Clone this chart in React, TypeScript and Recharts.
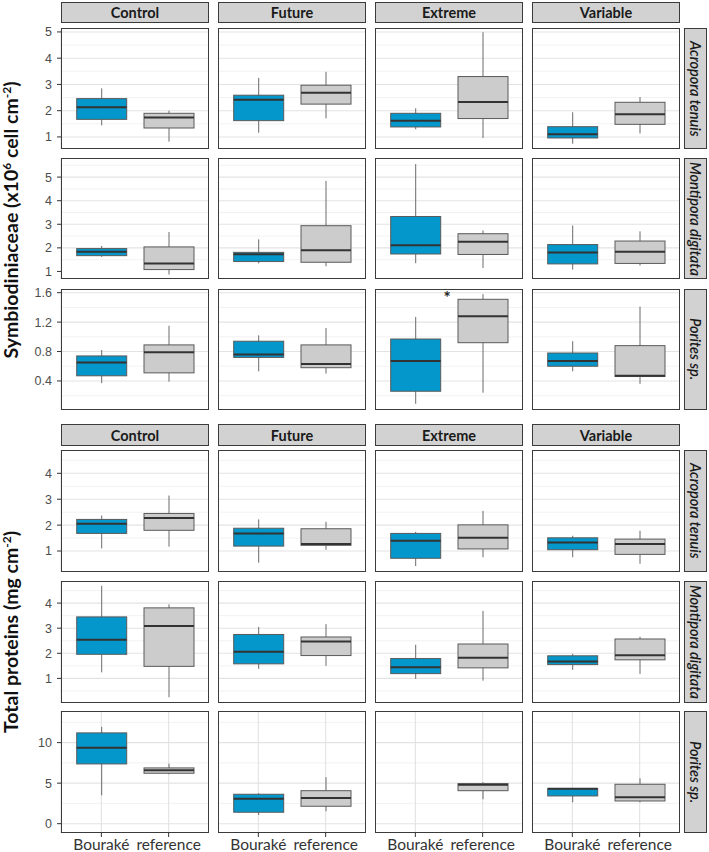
import React from 'react';
import { BarChart, Bar, XAxis, YAxis, CartesianGrid } from 'recharts';

// ---------- data ----------
const conditions = ['Control', 'Future', 'Extreme', 'Variable'];
const sites = ['Bouraké', 'reference'];
const species = ['Acropora tenuis', 'Montipora digitata', 'Porites sp.'];

// each box: [whiskerLow, q1, median, q3, whiskerHigh], one per condition
const symAcroBourake = [[1.44, 1.67, 2.13, 2.46, 2.85], [1.16, 1.62, 2.42, 2.59, 3.25], [1.29, 1.38, 1.62, 1.9, 2.09], [0.74, 0.96, 1.1, 1.39, 1.94]];
const symAcroReference = [[0.82, 1.34, 1.74, 1.9, 2.0], [1.71, 2.25, 2.68, 2.97, 3.48], [0.96, 1.7, 2.33, 3.3, 4.99], [1.13, 1.48, 1.86, 2.32, 2.52]];
const symMontiBourake = [[1.62, 1.67, 1.84, 1.97, 2.08], [1.34, 1.42, 1.73, 1.81, 2.36], [1.35, 1.74, 2.11, 3.33, 5.55], [1.08, 1.32, 1.8, 2.14, 2.95]];
const symMontiReference = [[0.87, 1.08, 1.34, 2.04, 2.67], [1.22, 1.39, 1.9, 2.94, 4.84], [1.15, 1.72, 2.26, 2.6, 2.74], [1.25, 1.34, 1.84, 2.29, 2.7]];
const symPoritesBourake = [[0.37, 0.47, 0.65, 0.74, 0.82], [0.53, 0.72, 0.76, 0.94, 1.02], [0.09, 0.26, 0.67, 0.97, 1.27], [0.53, 0.6, 0.67, 0.78, 0.94]];
const symPoritesReference = [[0.39, 0.51, 0.79, 0.89, 1.15], [0.5, 0.58, 0.63, 0.89, 1.12], [0.24, 0.92, 1.28, 1.51, 1.58], [0.36, 0.46, 0.47, 0.88, 1.41]];

const protAcroBourake = [[1.1, 1.68, 2.05, 2.22, 2.37], [0.55, 1.19, 1.68, 1.88, 2.22], [0.42, 0.72, 1.4, 1.68, 1.74], [0.76, 1.05, 1.33, 1.51, 1.59]];
const protAcroReference = [[1.17, 1.8, 2.27, 2.45, 3.14], [1.05, 1.22, 1.27, 1.86, 2.13], [0.76, 1.08, 1.51, 2.01, 2.55], [0.51, 0.87, 1.27, 1.46, 1.78]];
const protMontiBourake = [[1.24, 1.96, 2.54, 3.45, 4.69], [1.38, 1.58, 2.06, 2.75, 3.05], [0.98, 1.19, 1.44, 1.79, 2.34], [1.34, 1.55, 1.67, 1.9, 1.98]];
const protMontiReference = [[0.25, 1.48, 3.09, 3.81, 3.95], [1.5, 1.91, 2.47, 2.65, 3.16], [0.91, 1.42, 1.82, 2.37, 3.69], [1.18, 1.74, 1.92, 2.57, 2.66]];
const protPoritesBourake = [[3.5, 7.37, 9.38, 11.2, 11.94], [1.07, 1.41, 3.09, 3.63, 3.75], null, [2.64, 3.42, 4.3, 4.32, 4.37]];
const protPoritesReference = [[6.1, 6.22, 6.59, 6.88, 7.4], [1.53, 2.15, 3.17, 4.07, 5.73], [3.01, 4.07, 4.81, 4.94, 5.11], [2.64, 2.8, 3.26, 4.86, 5.6]];

const symDomains = [[0.54, 5.15], [0.68, 5.81], [0.005, 1.65]];
const symTicks = [[1, 2, 3, 4, 5], [1, 2, 3, 4, 5], [0.4, 0.8, 1.2, 1.6]];
const protDomains = [[0.19, 4.9], [0.02, 4.88], [-1.15, 13.9]];
const protTicks = [[1, 2, 3, 4], [1, 2, 3, 4], [0, 5, 10]];

// significance marker: [speciesIndex, conditionIndex, value]
const symStars = [[2, 2, 1.57]];

// ---------- styling ----------
const BLUE = '#0497cb';
const GREY = '#cccccc';
const colX = [61, 218, 375, 532];
const panelW = 148;
const topRows = [28, 158, 289];
const topH = 121;
const botRows = [450, 581, 711];
const botH = 122;
const yAxisW = 40;
const topPad = 7;
const BORDER = '1.5px solid #3b3b3b';

const BoxShape = (props: any) => {
  const { x, y, width, height, payload } = props;
  if (!payload || !payload.range) return null;
  const [lo, hi] = payload.range;
  const top = Math.min(y, y + height);
  const h = Math.abs(height);
  const k = h / (hi - lo);
  const py = (v: number) => top + (hi - v) * k;
  const cx = x + width / 2;
  return (
    <g>
      <line x1={cx} x2={cx} y1={py(hi)} y2={py(lo)} stroke="#6a6a6a" strokeWidth={1} />
      <rect x={x} y={py(payload.q3)} width={width} height={Math.max(py(payload.q1) - py(payload.q3), 0.5)} fill={payload.fill} stroke="#5a5a5a" strokeWidth={1} />
      <line x1={x} x2={x + width} y1={py(payload.med)} y2={py(payload.med)} stroke="#333333" strokeWidth={2} />
      {payload.star != null && (
        <text x={x - 11} y={py(payload.star) + 9} textAnchor="middle" fontSize={17} fontWeight={700} fill="#222" fontFamily="Lato">*</text>
      )}
    </g>
  );
};

function buildRows(bour: any, ref: any, star: number | null) {
  const mk = (b: any, site: string, fill: string, s: number | null) => ({
    g: site,
    range: b ? [b[0], b[4]] : null,
    q1: b ? b[1] : null,
    med: b ? b[2] : null,
    q3: b ? b[3] : null,
    fill,
    star: s,
  });
  return [mk(bour, sites[0], BLUE, null), mk(ref, sites[1], GREY, star)];
}

function minorOf(ticks: number[], dom: number[]) {
  const step = ticks[1] - ticks[0];
  const out: number[] = [];
  for (let v = ticks[0] - step / 2; v <= dom[1]; v += step) {
    if (v >= dom[0]) out.push(Math.round(v * 1000) / 1000);
  }
  return out;
}

const Facet = ({ rows, dom, ticks, left, top, h, showY, xMode, fmt }: any) => {
  const xh = xMode === 'labels' ? 22 : xMode === 'ticks' ? 5 : 0;
  const w = panelW + (showY ? yAxisW : 0);
  const minor = minorOf(ticks, dom);
  return (
    <div style={{ position: 'absolute', left: showY ? left - yAxisW : left, top: top - topPad }}>
      <BarChart width={w} height={h + xh + topPad} data={rows} margin={{ top: topPad, right: 0, bottom: 0, left: 0 }}>
        <CartesianGrid horizontalValues={minor} vertical={false} stroke="#efefef" strokeWidth={0.8} />
        <CartesianGrid horizontalValues={ticks} stroke="#e3e3e3" strokeWidth={1.1} />
        <XAxis
          dataKey="g"
          type="category"
          height={xh}
          padding={{ left: 6.7, right: 6.7 }}
          axisLine={false}
          tickLine={xMode === 'none' ? false : { stroke: '#333' }}
          tickSize={4}
          tickMargin={2}
          interval={0}
          tick={xMode === 'labels' ? { fontSize: 15.5, fill: '#333', fontFamily: 'Lato' } : false}
        />
        <YAxis
          type="number"
          domain={dom}
          ticks={ticks}
          allowDataOverflow
          hide={!showY}
          width={yAxisW}
          axisLine={false}
          tickLine={{ stroke: '#333' }}
          tickSize={4}
          tickMargin={5}
          tickFormatter={fmt}
          tick={{ fontSize: 12.5, fill: '#4d4d4d', fontFamily: 'Liberation Sans' }}
        />
        <Bar dataKey="range" barSize={50} isAnimationActive={false} shape={BoxShape} />
      </BarChart>
      <div style={{ position: 'absolute', left: showY ? yAxisW : 0, top: topPad, width: panelW, height: h, border: BORDER, boxSizing: 'border-box', pointerEvents: 'none' }} />
    </div>
  );
};

const TopStrip = ({ label, left, top, h }: any) => (
  <div style={{ position: 'absolute', left, top, width: panelW, height: h, background: '#d2d2d2', border: BORDER, boxSizing: 'border-box', display: 'flex', alignItems: 'center', justifyContent: 'center', fontFamily: 'Lato', fontWeight: 700, fontSize: 14.5, color: '#1a1a1a' }}>
    {label}
  </div>
);

const SideStrip = ({ label, top, h }: any) => (
  <div style={{ position: 'absolute', left: 684, top, width: 23, height: h, background: '#d2d2d2', border: BORDER, boxSizing: 'border-box', display: 'flex', alignItems: 'center', justifyContent: 'center' }}>
    <span style={{ writingMode: 'vertical-rl', fontFamily: 'Lato', fontStyle: 'italic', fontWeight: 600, fontSize: 14.5, color: '#1a1a1a', whiteSpace: 'nowrap' }}>{label}</span>
  </div>
);

export default function App() {
  const symB = [symAcroBourake, symMontiBourake, symPoritesBourake];
  const symR = [symAcroReference, symMontiReference, symPoritesReference];
  const protB = [protAcroBourake, protMontiBourake, protPoritesBourake];
  const protR = [protAcroReference, protMontiReference, protPoritesReference];

  const intFmt = (v: number) => String(v);
  const decFmt = (v: number) => v.toFixed(1);

  const facets: any[] = [];
  species.forEach((sp, r) => {
    conditions.forEach((c, ci) => {
      const star = symStars.find((s) => s[0] === r && s[1] === ci);
      facets.push(
        <Facet
          key={`s-${r}-${ci}`}
          rows={buildRows(symB[r][ci], symR[r][ci], star ? star[2] : null)}
          dom={symDomains[r]}
          ticks={symTicks[r]}
          left={colX[ci]}
          top={topRows[r]}
          h={topH}
          showY={ci === 0}
          xMode={r === 2 ? 'ticks' : 'none'}
          fmt={r === 2 ? decFmt : intFmt}
        />
      );
      facets.push(
        <Facet
          key={`p-${r}-${ci}`}
          rows={buildRows(protB[r][ci], protR[r][ci], null)}
          dom={protDomains[r]}
          ticks={protTicks[r]}
          left={colX[ci]}
          top={botRows[r]}
          h={botH}
          showY={ci === 0}
          xMode={r === 2 ? 'labels' : 'none'}
          fmt={intFmt}
        />
      );
    });
  });

  return (
    <div style={{ position: 'absolute', left: 0, top: 0, width: 709, height: 852, background: '#fff', overflow: 'hidden' }}>
      {facets}
      {conditions.map((c, i) => (
        <TopStrip key={`ts-${i}`} label={c} left={colX[i]} top={2} h={21} />
      ))}
      {conditions.map((c, i) => (
        <TopStrip key={`bs-${i}`} label={c} left={colX[i]} top={424} h={22} />
      ))}
      {species.map((s, i) => (
        <SideStrip key={`ss-${i}`} label={s} top={topRows[i]} h={topH} />
      ))}
      {species.map((s, i) => (
        <SideStrip key={`bss-${i}`} label={s} top={botRows[i]} h={botH} />
      ))}
      <svg width={40} height={852} style={{ position: 'absolute', left: 0, top: 0 }}>
        <text transform="translate(18,220) rotate(-90)" textAnchor="middle" fontFamily="Lato" fontWeight={700} fontSize={19.5} fill="#111">
          Symbiodiniaceae (x10<tspan dy={-7} fontSize={12}>6</tspan>
          <tspan dy={7}> cell cm</tspan>
          <tspan dy={-7} fontSize={12}>-2</tspan>
          <tspan dy={7}>)</tspan>
        </text>
        <text transform="translate(18,632) rotate(-90)" textAnchor="middle" fontFamily="Lato" fontWeight={700} fontSize={19.5} fill="#111">
          Total proteins (mg cm<tspan dy={-7} fontSize={12}>-2</tspan>
          <tspan dy={7}>)</tspan>
        </text>
      </svg>
    </div>
  );
}
